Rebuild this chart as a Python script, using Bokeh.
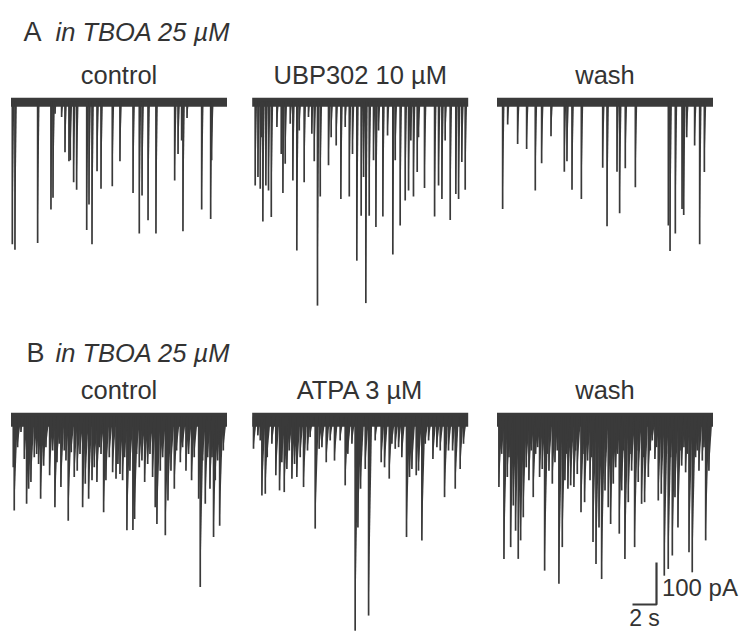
import numpy as np
from bokeh.plotting import figure
from bokeh.models import Range1d, Label, ColumnDataSource
from bokeh.embed import file_html
from bokeh.resources import INLINE

# ---------------- data (time in s from trace start, amplitude in pA, inward = downward) -------------
DURATION = 18.0

a_ctrl_t = [0.11, 0.33, 2.22, 3.33, 3.5, 4.22, 4.5, 4.83, 4.94, 5.22, 5.47, 6.31, 6.5, 6.75, 7.17, 7.5,
            8.44, 9.08, 10.17, 10.69, 10.92, 11.42, 12.08, 13.64, 13.92, 14.33, 14.67, 15.89, 16.64,
            16.72, 3.67, 14.22]
a_ctrl_amp = [340, 353, 337, 257, 229, 37, 121, 142, 140, 192, 210, 306, 245, 340, 166, 208,
              202, 142, 218, 314, 224, 283, 314, 188, 125, 309, 39, 257, 280, 140, 29, 93]

a_ubp_t = [0.25, 0.48, 0.67, 0.89, 1.14, 1.36, 1.59, 2.42, 2.56, 2.75, 3.39, 3.72, 3.92, 4.33, 4.69,
           5.17, 5.44, 5.67, 6.36, 6.58, 7.0, 7.39, 8.09, 8.36, 8.72, 9.08, 9.28, 9.47, 9.75, 10.11,
           10.31, 10.89, 11.28, 11.72, 11.92, 12.33, 12.75, 13.03, 13.22, 13.44, 13.75, 14.36, 15.2,
           15.53, 15.81, 16.5, 16.97, 17.2, 17.47, 17.75, 0.75, 2.06, 3.17, 4.97, 7.75, 10.53, 13.86, 16.08]
a_ubp_amp = [200, 180, 208, 286, 200, 212, 275, 125, 218, 148, 188, 355, 69, 192, 37,
             142, 486, 226, 152, 85, 105, 232, 226, 125, 379, 272, 180, 480, 272, 140,
             299, 274, 81, 364, 140, 295, 236, 212, 93, 226, 168, 206, 274,
             200, 232, 282, 220, 232, 144, 210, 85, 61, 53, 77, 61, 69, 85, 93]

a_wash_t = [0.47, 0.89, 1.72, 2.47, 3.19, 3.72, 4.5, 5.61, 5.83, 6.25, 7.03, 8.81, 9.17, 10.0, 10.22,
            10.69, 11.53, 14.28, 14.42, 14.86, 15.42, 15.56, 15.81, 16.47, 16.89, 17.28]
a_wash_amp = [256, 55, 101, 113, 212, 147, 83, 167, 142, 210, 232, 158, 297, 167, 266,
              159, 204, 295, 356, 314, 256, 270, 85, 105, 340, 168]

b_ctrl_t = [0.27, 0.19, 0.83, 1.11, 1.3, 1.47, 1.66, 2.14, 2.3, 2.47, 2.72, 2.91, 3.22, 3.66, 3.83,
            4.16, 4.44, 4.77, 5.02, 5.27, 5.52, 5.97, 6.19, 6.47, 6.75, 6.94, 7.16, 7.5, 7.72, 7.91,
            8.47, 8.75, 9.08, 9.3, 9.66, 9.91, 10.16, 10.3, 10.69, 11.14, 11.39, 11.8, 12.02, 12.16,
            12.44, 12.86, 13.08, 13.33, 13.61, 14.11, 14.58, 15.05, 15.64, 15.77, 16.19, 16.58,
            16.88, 17.02, 17.39, 17.69,
            0.55, 1.94, 3.47, 4.02, 4.58, 5.75, 7.36, 8.19, 8.91, 9.47, 10.47, 10.91, 11.58, 12.64,
            13.8, 14.3, 14.8, 15.27, 15.97, 16.39, 16.75, 17.22, 17.5]
b_ctrl_amp = [224, 121, 37, 101, 208, 172, 156, 89, 113, 196, 117, 73, 140, 216, 109,
              168, 81, 248, 85, 144, 129, 216, 160, 196, 152, 121, 156, 89, 228, 152,
              133, 148, 137, 152, 271, 129, 270, 244, 121, 156, 113, 144, 216, 256,
              129, 283, 200, 129, 172, 109, 129, 152, 196, 406, 208, 172,
              287, 152, 260, 81,
              73, 97, 81, 65, 105, 89, 73, 97, 113, 97, 89, 105, 89, 97,
              81, 73, 89, 97, 105, 97, 97, 105, 89]

b_atpa_t = [0.11, 0.47, 0.81, 1.09, 1.25, 1.97, 2.28, 2.47, 2.67, 2.89, 3.09, 3.31, 3.53, 3.72, 4.0,
            4.28, 4.61, 5.25, 5.58, 5.81, 6.17, 6.86, 7.75, 7.97, 8.58, 8.81, 9.03, 9.42, 9.7, 10.75,
            11.03, 11.42, 11.92, 12.2, 12.47, 12.86, 13.11, 13.31, 13.67, 13.86, 14.14, 14.7, 15.06,
            15.39, 15.67, 16.03, 16.36, 16.7, 16.92, 17.33,
            0.67, 1.64, 2.75, 4.83, 6.5, 7.33, 8.31, 10.25, 11.64, 14.42, 17.61]
b_atpa_amp = [77, 45, 188, 184, 97, 140, 176, 109, 180, 125, 81, 148, 113, 144, 97,
              168, 81, 267, 77, 73, 109, 105, 164, 89, 510, 264, 172, 125, 474, 109,
              121, 148, 77, 73, 97, 287, 144, 125, 140, 129, 295, 57, 101,
              73, 81, 192, 81, 81, 172, 125,
              57, 65, 73, 49, 57, 57, 65, 57, 65, 65, 65]

b_wash_t = [0.16, 0.58, 0.86, 1.14, 1.36, 1.55, 1.77, 1.97, 2.19, 2.44, 2.66, 3.02, 3.22, 3.55, 3.77,
            3.97, 4.33, 4.61, 4.83, 5.16, 5.44, 5.66, 5.91, 6.14, 6.41, 6.69, 7.0, 7.3, 7.55, 7.75,
            8.0, 8.25, 8.5, 8.72, 9.0, 9.27, 9.47, 9.69, 9.89, 10.19, 10.39, 10.66, 10.94, 11.22,
            11.47, 11.77, 12.05, 12.3, 12.61, 12.94, 13.16, 13.44, 13.69, 13.94, 14.27, 14.61,
            14.83, 15.08, 15.39, 15.72, 16.0, 16.27, 16.55, 16.83, 17.11, 17.39, 17.66,
            0.39, 1.0, 2.86, 3.39, 4.19, 5.02, 5.8, 6.55, 7.16, 7.89, 8.86, 10.05, 10.52, 11.08,
            11.64, 12.19, 12.77, 13.3, 14.11, 14.47, 15.25, 15.58, 15.86, 16.41, 16.69, 17.25, 17.53]
b_wash_amp = [168, 339, 144, 311, 212, 272, 339, 295, 240, 121, 152, 192, 89, 144, 125,
              367, 129, 160, 109, 398, 311, 152, 172, 164, 168, 137, 228, 204, 105, 152,
              299, 351, 264, 387, 176, 216, 256, 160, 121, 279, 176, 339, 204, 129,
              311, 156, 208, 204, 144, 57, 101, 200, 184, 379, 363, 331,
              192, 264, 117, 133, 323, 371, 97, 129, 105, 295, 129,
              89, 97, 81, 73, 89, 81, 89, 81, 89, 97, 97, 89, 81, 89,
              81, 97, 81, 73, 89, 97, 81, 73, 89, 73, 81, 73, 81]

titles_a = ["control", "UBP302 10 \u00b5M", "wash"]
titles_b = ["control", "ATPA 3 \u00b5M", "wash"]
condition_label = "in TBOA 25 \u00b5M"
scale_t = 2      # s
scale_i = 100    # pA

# ---------------- layout (1 s = 12 px, 100 pA = 42 px) ----------------
PX_S = 12.0
PX_PA = 0.42
W, H = 740, 634
BASE_A_PX = 101.0               # pixel row of the first baseline
X0 = -10.5 / PX_S               # s at left edge
Y_TOP = BASE_A_PX / PX_PA       # pA at top edge
col_off = [0.0, 20.1, 40.5]     # trace starts (s)
row_off = [0.0, -750.0]         # baselines (pA)


def ypx(py):
    """data y for a pixel row (layout helper for texts only)"""
    return Y_TOP - py / PX_PA


def xpx(px):
    return X0 + px / PX_S


p = figure(width=W, height=H, output_backend="svg", toolbar_location=None,
           x_range=Range1d(X0, X0 + W / PX_S), y_range=Range1d(Y_TOP - H / PX_PA, Y_TOP),
           min_border=0, outline_line_color=None)
p.axis.visible = False
p.grid.visible = False
p.background_fill_color = None
p.border_fill_color = "white"

TRACE = "#3a3a3a"
FONT = "Liberation Sans"

traces = [[(a_ctrl_t, a_ctrl_amp), (a_ubp_t, a_ubp_amp), (a_wash_t, a_wash_amp)],
          [(b_ctrl_t, b_ctrl_amp), (b_atpa_t, b_atpa_amp), (b_wash_t, b_wash_amp)]]

for r, row in enumerate(traces):
    base = row_off[r]
    tail = 0.16 if r == 0 else 0.3
    for c, (ts, amps) in enumerate(row):
        x0 = col_off[c]
        ts = np.asarray(ts, float) + x0
        amps = np.asarray(amps, float)
        # noise band of the baseline
        if r == 0:
            p.line([x0, x0 + DURATION], [base - 2, base - 2], line_width=9, line_color=TRACE)
        else:
            p.line([x0, x0 + DURATION], [base - 8, base - 8], line_width=14, line_color=TRACE)
        src = ColumnDataSource(dict(x0=ts, y0=np.full_like(ts, base), x1=ts, y1=base - amps))
        p.segment(x0="x0", y0="y0", x1="x1", y1="y1", source=src, line_color=TRACE,
                  line_width=1.7)
        # decay tails: narrow triangles
        xs = [[t - 0.02, t, t + tail] for t in ts]
        ys = [[base, base - a, base] for a in amps]
        p.patches(xs, ys, fill_color=TRACE, line_color=None)

# ---------------- texts ----------------
def add_label(x, y, text, size, style="normal", align="left"):
    p.add_layout(Label(x=x, y=y, text=text, text_font=FONT, text_font_size=f"{size}px",
                       text_font_style=style, text_color="#333333", text_align=align,
                       text_baseline="alphabetic"))

# row A
add_label(xpx(23), ypx(31), "A", 27)
add_label(xpx(55), ypx(31), condition_label, 25.5, "italic")
for c, t in enumerate(titles_a):
    add_label(col_off[c] + DURATION / 2, ypx(74), t, 25.5, align="center")
# row B
add_label(xpx(26), ypx(352), "B", 27)
add_label(xpx(55), ypx(352), condition_label, 25.5, "italic")
for c, t in enumerate(titles_b):
    add_label(col_off[c] + DURATION / 2, ypx(389), t, 25.5, align="center")

# ---------------- scale bar ----------------
sb_x = xpx(656)
sb_y = ypx(604)
p.line([sb_x - scale_t, sb_x, sb_x], [sb_y, sb_y, sb_y + scale_i], line_color=TRACE, line_width=2.2)
add_label(sb_x + 0.45, sb_y + scale_i * 0.4, f"{scale_i} pA", 24)
add_label(sb_x - scale_t / 2, ypx(617), f"{scale_t} s", 23, align="center")

open("out.html", "w").write(file_html(p, INLINE))
